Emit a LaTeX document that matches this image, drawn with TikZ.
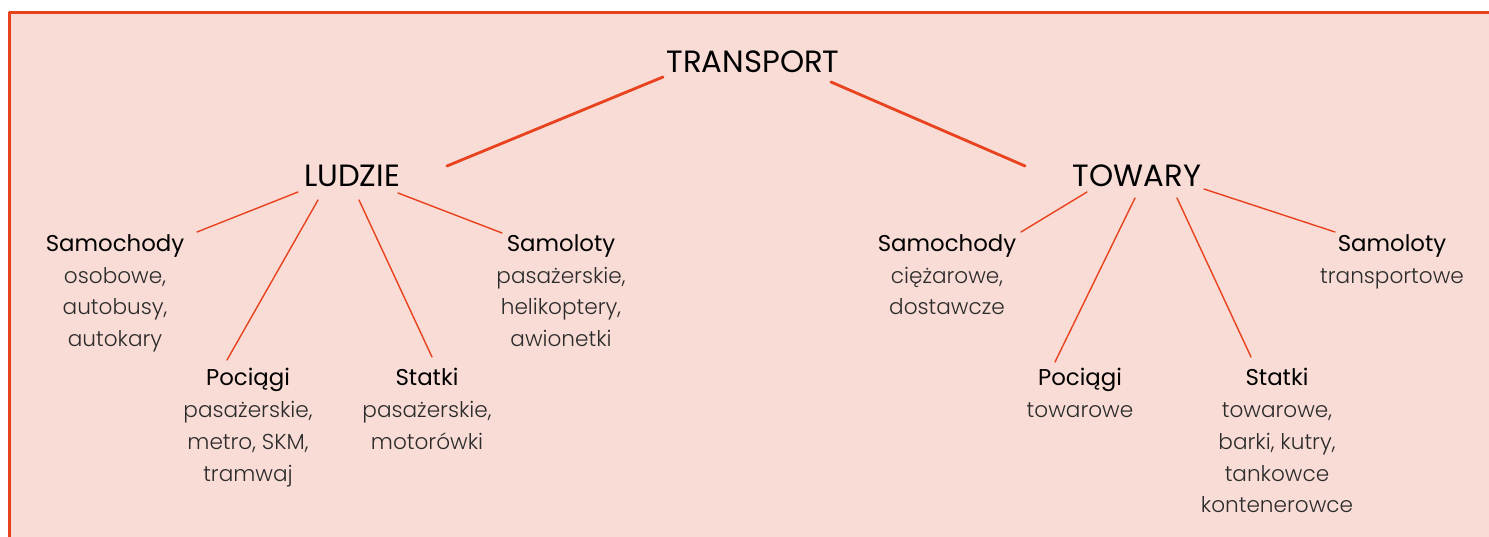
\documentclass[tikz,border=0pt]{standalone}
\usepackage{fontspec}
\setmainfont{Poppins}
\newfontfamily\lightfont{Poppins Light}
\usepackage{tikz}
\usetikzlibrary{calc}
\definecolor{ffdcd5}{rgb}{0.976,0.863,0.835}
\definecolor{ee4422}{rgb}{0.91,0.26,0.12}
\definecolor{qqqqqq}{rgb}{0.17,0.17,0.17}
\newcommand{\kat}[1]{{\fontsize{13}{18.1}\selectfont #1}}
\newcommand{\opis}[1]{{\lightfont\color{qqqqqq}#1}}

\begin{document}
\begin{tikzpicture}[line cap=round,line join=round,x=0.02cm,y=-0.02cm,
    main/.style={font=\fontsize{17.5}{20}\selectfont,inner sep=0pt,anchor=base},
    leaf/.style={font=\fontsize{12.3}{18.1}\selectfont,align=center,inner sep=0pt,anchor=north},
    thin/.style={line width=0.8pt,color=ee4422},
    thick/.style={line width=1.6pt,color=ee4422}]
\useasboundingbox (0,0) rectangle (1489,537);
\clip (0,0) rectangle (1489,537);
\draw [line width=1.7pt,color=ee4422,fill=ffdcd5] (9.5,12.5) rectangle (1520,560);
% poziomy
\node [main] (transport) at (753,73) {TRANSPORT};
\node [main] (ludzie) at (352,187) {LUDZIE};
\node [main] (towary) at (1137,187) {TOWARY};
% ludzie
\node [leaf] (lsam) at (115,234) {\kat{Samochody}\\ \opis{osobowe,}\\ \opis{autobusy,}\\ \opis{autokary}};
\node [leaf] (lpoc) at (248,368) {\kat{Pociągi}\\ \opis{pasażerskie,}\\ \opis{metro, SKM,}\\ \opis{tramwaj}};
\node [leaf] (lsta) at (427,368) {\kat{Statki}\\ \opis{pasażerskie,}\\ \opis{motorówki}};
\node [leaf] (lsaml) at (561,234) {\kat{Samoloty}\\ \opis{pasażerskie,}\\ \opis{helikoptery,}\\ \opis{awionetki}};
% towary
\node [leaf] (tsam) at (947,234) {\kat{Samochody}\\ \opis{ciężarowe,}\\ \opis{dostawcze}};
\node [leaf] (tpoc) at (1080,368) {\kat{Pociągi}\\ \opis{towarowe}};
\node [leaf] (tsta) at (1277,368) {\kat{Statki}\\ \opis{towarowe,}\\ \opis{barki, kutry,}\\ \opis{tankowce}\\ \opis{kontenerowce}};
\node [leaf] (tsaml) at (1392,234) {\kat{Samoloty}\\ \opis{transportowe}};
% linie
\draw [thick] ($(transport.base)+(-90,4)$) -- ($(ludzie.base)+(95,-21)$);
\draw [thick] ($(transport.base)+(78,9)$) -- ($(towary.base)+(-112,-21)$);
\draw [thin] ($(ludzie.base)+(-54,5)$) -- ($(lsam.north)+(82,-2)$);
\draw [thin] ($(ludzie.base)+(-34,13)$) -- ($(lpoc.north)+(-21,-8)$);
\draw [thin] ($(ludzie.base)+(7,13)$) -- ($(lsta.north)+(5,-11)$);
\draw [thin] ($(ludzie.base)+(46,6)$) -- ($(lsaml.north)+(-59,-1)$);
\draw [thin] ($(towary.base)+(-50,5)$) -- ($(tsam.north)+(74,-2)$);
\draw [thin] ($(towary.base)+(-2,11)$) -- ($(tpoc.north)+(-25,-6)$);
\draw [thin] ($(towary.base)+(40,11)$) -- ($(tsta.north)+(-26,-11)$);
\draw [thin] ($(towary.base)+(67,2)$) -- ($(tsaml.north)+(-57,-2)$);
\end{tikzpicture}
\end{document}
